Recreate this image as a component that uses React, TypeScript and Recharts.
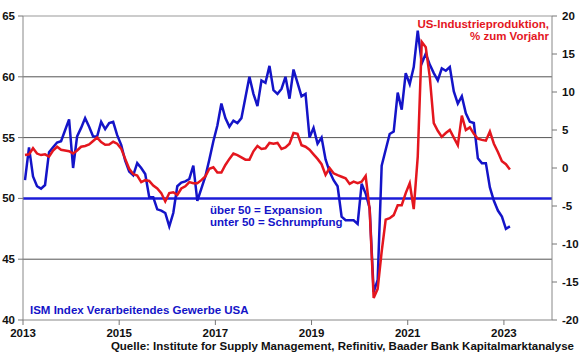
import React from 'react';
import { LineChart, Line, XAxis, YAxis, ReferenceLine } from 'recharts';

const startYear = 2013;

// ISM Index Verarbeitendes Gewerbe (monthly, Jan 2013 - Feb 2023)
const ism2013 = [51.5, 54.2, 51.8, 51.0, 50.8, 51.1, 53.8, 54.2, 54.6, 54.7, 55.6, 56.5];
const ism2014 = [52.5, 55.1, 55.8, 56.6, 55.9, 55.1, 55.1, 56.3, 55.7, 56.2, 56.3, 55.2];
const ism2015 = [54.4, 53.1, 52.2, 51.9, 52.9, 52.5, 52.0, 50.1, 50.1, 49.1, 49.0, 48.8];
const ism2016 = [47.7, 48.8, 51.0, 51.3, 51.4, 51.6, 52.7, 49.8, 50.8, 51.8, 53.2, 54.7];
const ism2017 = [56.0, 57.8, 56.6, 55.9, 56.4, 56.2, 56.6, 58.3, 60.0, 58.6, 57.6, 59.7];
const ism2018 = [59.5, 60.9, 58.9, 58.6, 59.0, 60.0, 58.2, 60.6, 59.5, 58.4, 58.6, 55.0];
const ism2019 = [55.8, 54.5, 55.0, 53.2, 52.2, 51.5, 51.0, 48.5, 48.2, 48.2, 48.2, 47.9];
const ism2020 = [51.2, 50.4, 49.2, 42.3, 43.3, 52.7, 54.0, 55.3, 55.5, 58.7, 57.3, 60.3];
const ism2021 = [59.4, 60.8, 63.8, 61.1, 61.9, 61.0, 60.3, 59.7, 60.7, 60.5, 60.8, 58.8];
const ism2022 = [57.8, 58.4, 57.0, 56.3, 56.2, 53.3, 52.9, 52.9, 50.9, 49.8, 49.0, 48.5];
const ism2023 = [47.5, 47.7];

// US-Industrieproduktion, % zum Vorjahr
const ip2013 = [1.7, 1.8, 2.6, 1.9, 1.7, 1.8, 1.5, 2.3, 2.8, 2.4, 2.3, 2.2];
const ip2014 = [1.9, 2.3, 2.8, 2.9, 3.1, 3.55, 4.0, 3.4, 3.05, 3.1, 3.45, 3.2];
const ip2015 = [2.55, 1.2, -0.1, -0.8, -1.0, -1.85, -1.6, -1.7, -2.3, -2.7, -3.3, -4.4];
const ip2016 = [-3.3, -3.2, -3.55, -2.7, -2.4, -1.85, -2.0, -2.0, -1.6, -1.1, -0.1, 0.1];
const ip2017 = [-0.6, -0.6, 0.4, 1.2, 1.9, 1.7, 1.4, 1.1, 1.1, 2.2, 2.9, 2.5];
const ip2018 = [2.6, 3.3, 3.2, 3.3, 2.5, 2.7, 3.2, 4.6, 4.5, 3.0, 2.8, 2.4];
const ip2019 = [1.8, 1.2, 0.5, -0.9, 0.0, -0.7, -0.95, -1.15, -1.35, -2.1, -1.8, -2.0];
const ip2020 = [-1.8, -1.05, -5.5, -17.1, -15.9, -11.0, -6.8, -6.6, -6.2, -4.9, -4.9, -3.3];
const ip2021 = [-2.0, -5.4, 1.5, 16.6, 15.9, 12.0, 5.9, 4.9, 4.1, 4.6, 5.0, 4.0];
const ip2022 = [3.0, 6.9, 5.0, 5.35, 4.5, 3.85, 3.7, 3.6, 4.8, 3.2, 2.1, 0.9];
const ip2023 = [0.5, -0.2];

const ismValues = [
  ...ism2013, ...ism2014, ...ism2015, ...ism2016, ...ism2017, ...ism2018,
  ...ism2019, ...ism2020, ...ism2021, ...ism2022, ...ism2023,
];
const ipValues = [
  ...ip2013, ...ip2014, ...ip2015, ...ip2016, ...ip2017, ...ip2018,
  ...ip2019, ...ip2020, ...ip2021, ...ip2022, ...ip2023,
];

const yearTicks = [2013, 2015, 2017, 2019, 2021, 2023];
const leftTicks = [40, 45, 50, 55, 60, 65];
const rightTicks = [-20, -15, -10, -5, 0, 5, 10, 15, 20];

const data = ismValues.map((v, i) => ({
  t: startYear + (i + 0.5) / 12,
  ism: v,
  ip: ipValues[i],
}));

const font = '"Liberation Sans", Arial, sans-serif';
const blue = '#1414c8';
const red = '#e4161e';

const tickStyle = { fontSize: 11.5, fontWeight: 700, fill: '#111', fontFamily: font };

const noteStyle: React.CSSProperties = {
  position: 'absolute',
  fontWeight: 700,
  fontSize: 11.5,
  lineHeight: '12px',
  whiteSpace: 'nowrap',
};

const App: React.FC = () => {
  return (
    <div
      style={{
        position: 'absolute',
        left: 0,
        top: 0,
        width: 580,
        height: 359,
        background: '#fff',
        fontFamily: font,
      }}
    >
      <LineChart width={580} height={359} data={data} margin={{ top: 16, right: 0, bottom: 0, left: 0 }}>
        <XAxis
          dataKey="t"
          type="number"
          domain={[2013, 2024]}
          ticks={yearTicks}
          allowDataOverflow
          height={39}
          tick={tickStyle}
          tickSize={5}
          tickMargin={4}
          tickLine={{ stroke: '#777' }}
          axisLine={{ stroke: '#888' }}
        />
        <YAxis
          yAxisId="left"
          domain={[40, 65]}
          ticks={leftTicks}
          width={23}
          tick={tickStyle}
          tickSize={5}
          tickMargin={3}
          tickLine={{ stroke: '#777' }}
          axisLine={{ stroke: '#888' }}
        />
        <YAxis
          yAxisId="right"
          orientation="right"
          domain={[-20, 20]}
          ticks={rightTicks}
          width={28}
          tick={tickStyle}
          tickSize={5}
          tickMargin={5}
          tickLine={{ stroke: '#777' }}
          axisLine={{ stroke: '#888' }}
        />
        <ReferenceLine yAxisId="left" y={65} stroke="#bbb" strokeWidth={1.5} />
        <ReferenceLine yAxisId="left" y={60} stroke="#555" />
        <ReferenceLine yAxisId="left" y={55} stroke="#555" />
        <ReferenceLine yAxisId="left" y={45} stroke="#555" />
        <ReferenceLine yAxisId="left" y={50} stroke="#1c1cd8" strokeWidth={2.5} />
        <Line
          yAxisId="left"
          type="linear"
          dataKey="ism"
          stroke={blue}
          strokeWidth={2.5}
          dot={false}
          isAnimationActive={false}
        />
        <Line
          yAxisId="right"
          type="linear"
          dataKey="ip"
          stroke={red}
          strokeWidth={2.5}
          dot={false}
          isAnimationActive={false}
        />
      </LineChart>

      <div style={{ ...noteStyle, right: 31, top: 18, color: red, textAlign: 'right' }}>US-Industrieproduktion,</div>
      <div style={{ ...noteStyle, right: 31, top: 30, color: red, textAlign: 'right' }}>% zum Vorjahr</div>
      <div style={{ ...noteStyle, left: 210, top: 204, color: blue }}>über 50 = Expansion</div>
      <div style={{ ...noteStyle, left: 210, top: 216.3, color: blue }}>unter 50 = Schrumpfung</div>
      <div style={{ ...noteStyle, left: 30, top: 304, color: blue }}>ISM Index Verarbeitendes Gewerbe USA</div>
      <div style={{ ...noteStyle, right: 6, top: 340, color: '#111' }}>
        Quelle: Institute for Supply Management, Refinitiv, Baader Bank Kapitalmarktanalyse
      </div>
    </div>
  );
};

export default App;
